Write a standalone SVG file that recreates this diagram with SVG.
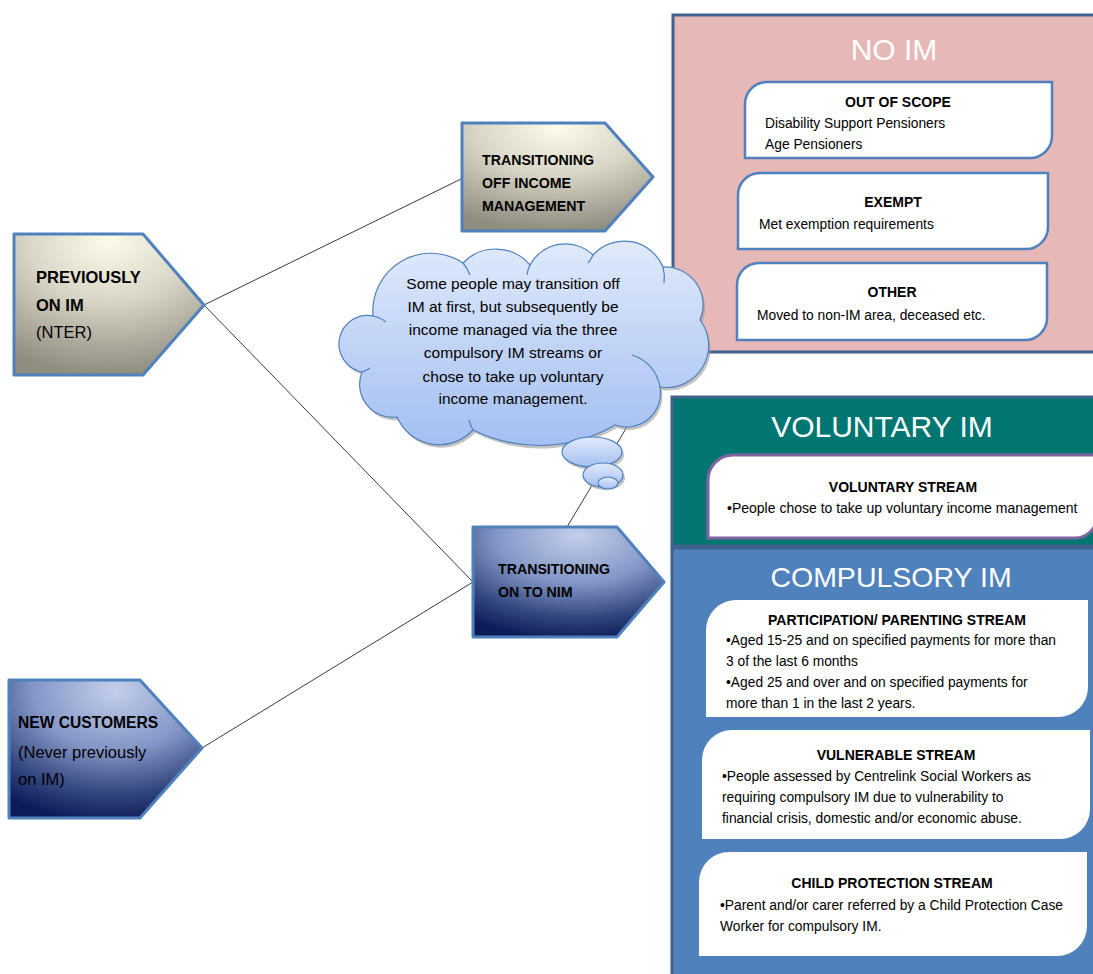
<svg xmlns="http://www.w3.org/2000/svg" width="1093" height="974" viewBox="0 0 1093 974">
<defs>
<radialGradient id="gBeige" cx="0.5" cy="0.05" r="0.95" fx="0.5" fy="0.05">
<stop offset="0" stop-color="#fdfbea"/>
<stop offset="0.45" stop-color="#d9d6c7"/>
<stop offset="1" stop-color="#8f8c80"/>
</radialGradient>
<radialGradient id="gBlue" cx="0.55" cy="0.08" r="0.95" fx="0.55" fy="0.08">
<stop offset="0" stop-color="#c3cfea"/>
<stop offset="0.45" stop-color="#8396c6"/>
<stop offset="0.78" stop-color="#33477f"/>
<stop offset="1" stop-color="#0c1c58"/>
</radialGradient>
<linearGradient id="gCloud" x1="0" y1="0" x2="0" y2="1">
<stop offset="0" stop-color="#e0eafb"/>
<stop offset="1" stop-color="#a4bff2"/>
</linearGradient>
<style>
.pent{stroke:#4f81bd;stroke-width:3;stroke-linejoin:round}
.conn{stroke:#3a3a3a;stroke-width:1;fill:none}
.t{font-family:"Liberation Sans",Arial,sans-serif;fill:#000}
.b{font-weight:bold}
.title{font-family:"Liberation Sans",Arial,sans-serif;fill:#fff;text-anchor:middle}
.box{fill:#fff}
.bx{stroke:#4f81bd;stroke-width:2.5}
.cl{fill:url(#gCloud);stroke:#4f81bd;stroke-width:1.2}
.crease{fill:none;stroke:#4f81bd;stroke-width:1.2}
</style>
</defs>
<rect width="1093" height="974" fill="#fff"/>

<g id="connectors">
<line class="conn" x1="204" y1="305" x2="461" y2="179"/>
<line class="conn" x1="204" y1="305" x2="473" y2="582"/>
<line class="conn" x1="202" y1="748" x2="473" y2="582"/>
<line class="conn" x1="567" y1="527" x2="670" y2="355"/>
</g>

<g id="panel-no-im">
<rect x="673" y="15" width="440" height="337" fill="#e6b8b7" stroke="#41628f" stroke-width="3"/>
<text class="title" x="894" y="60" font-size="30">NO IM</text>
</g>
<g id="out-of-scope">
<path class="box bx" d="M767,82 H1052 V136 A22,22 0 0 1 1030,158 H745 V104 A22,22 0 0 1 767,82 Z"/>
<text class="t b" x="898" y="107" font-size="14" text-anchor="middle">OUT OF SCOPE</text>
<text class="t" x="765" y="128" font-size="13.8">Disability Support Pensioners</text>
<text class="t" x="765" y="149" font-size="13.8">Age Pensioners</text>
</g>
<g id="exempt">
<path class="box bx" d="M760,173 H1048 V227 A22,22 0 0 1 1026,249 H738 V195 A22,22 0 0 1 760,173 Z"/>
<text class="t b" x="893" y="207" font-size="14" text-anchor="middle">EXEMPT</text>
<text class="t" x="759" y="229" font-size="13.8">Met exemption requirements</text>
</g>
<g id="other">
<path class="box bx" d="M759,263 H1047 V318 A22,22 0 0 1 1025,340 H737 V285 A22,22 0 0 1 759,263 Z"/>
<text class="t b" x="892" y="297" font-size="14" text-anchor="middle">OTHER</text>
<text class="t" x="757" y="320" font-size="13.8">Moved to non-IM area, deceased etc.</text>
</g>

<g id="panel-voluntary">
<rect x="672" y="397" width="440" height="149" fill="#007672" stroke="#41628f" stroke-width="3"/>
<text class="title" x="882" y="437" font-size="30">VOLUNTARY IM</text>
</g>
<g id="voluntary-stream">
<path class="box" stroke="#8064a2" stroke-width="3" d="M733,455 H1097 V516 A22,22 0 0 1 1075,538 H708 V480 A25,25 0 0 1 733,455 Z"/>
<text class="t b" x="903" y="492" font-size="14" text-anchor="middle">VOLUNTARY STREAM</text>
<text class="t" x="727" y="513" font-size="14">•People chose to take up voluntary income management</text>
</g>

<g id="panel-compulsory">
<rect x="672" y="548" width="440" height="440" fill="#4f81bd" stroke="#41628f" stroke-width="3"/>
<text class="title" x="891" y="587" font-size="28.5">COMPULSORY IM</text>
</g>
<g id="participation-stream">
<path class="box" d="M737,600 H1088 V687 A30,30 0 0 1 1058,717 H706 V630 A30,30 0 0 1 737,600 Z"/>
<text class="t b" x="897" y="625" font-size="14" text-anchor="middle">PARTICIPATION/ PARENTING STREAM</text>
<text class="t" x="726" y="645" font-size="13.8">•Aged 15-25 and on specified payments for more than</text>
<text class="t" x="726" y="666" font-size="13.8">3 of the last 6 months</text>
<text class="t" x="726" y="687" font-size="13.8">•Aged 25 and over and on specified payments for</text>
<text class="t" x="726" y="708" font-size="13.8">more than 1 in the last 2 years.</text>
</g>
<g id="vulnerable-stream">
<path class="box" d="M732,730 H1090 V809 A30,30 0 0 1 1060,839 H702 V760 A30,30 0 0 1 732,730 Z"/>
<text class="t b" x="896" y="760" font-size="14" text-anchor="middle">VULNERABLE STREAM</text>
<text class="t" x="722" y="781" font-size="13.8">•People assessed by Centrelink Social Workers as</text>
<text class="t" x="722" y="802" font-size="13.8">requiring compulsory IM due to vulnerability to</text>
<text class="t" x="722" y="823" font-size="13.8">financial crisis, domestic and/or economic abuse.</text>
</g>
<g id="child-protection-stream">
<path class="box" d="M729,852 H1087 V926 A30,30 0 0 1 1057,956 H699 V882 A30,30 0 0 1 729,852 Z"/>
<text class="t b" x="892" y="888" font-size="14" text-anchor="middle">CHILD PROTECTION STREAM</text>
<text class="t" x="720" y="910" font-size="13.8">•Parent and/or carer referred by a Child Protection Case</text>
<text class="t" x="720" y="931" font-size="13.8">Worker for compulsory IM.</text>
</g>

<g id="previously-on-im">
<path class="pent" fill="url(#gBeige)" d="M14,234 H143 L204,305 L143,375 H14 Z"/>
<text class="t b" x="36" y="283" font-size="16.5">PREVIOUSLY</text>
<text class="t b" x="36" y="311" font-size="16.5">ON IM</text>
<text class="t" x="36" y="338" font-size="16.5">(NTER)</text>
</g>
<g id="transitioning-off">
<path class="pent" fill="url(#gBeige)" d="M462,123 H605 L653,177 L605,231 H462 Z"/>
<text class="t b" x="482" y="165" font-size="14.2">TRANSITIONING</text>
<text class="t b" x="482" y="188" font-size="14.2">OFF INCOME</text>
<text class="t b" x="482" y="211" font-size="14.2">MANAGEMENT</text>
</g>
<g id="transitioning-on">
<path class="pent" fill="url(#gBlue)" d="M473,527 H617 L664,582 L617,637 H473 Z"/>
<text class="t b" x="498" y="574" font-size="14.2">TRANSITIONING</text>
<text class="t b" x="498" y="597" font-size="14.2">ON TO NIM</text>
</g>
<g id="new-customers">
<path class="pent" fill="url(#gBlue)" d="M9,680 H140 L202,748 L140,818 H9 Z"/>
<text class="t b" x="18" y="728" font-size="15.6">NEW CUSTOMERS</text>
<text class="t" x="18" y="758" font-size="16.5">(Never previously</text>
<text class="t" x="18" y="785" font-size="16.5">on IM)</text>
</g>

<g id="cloud">
<g transform="translate(2,3)" fill="#9a9a9a" opacity="0.6">
<path d="M373,316 A58,58 0 0 1 463,263 A45,45 0 0 1 530,265 A40,40 0 0 1 593,255 A42,42 0 0 1 663,267 A38,38 0 0 1 700,320 A42,42 0 0 1 660,387 A34,34 0 0 1 615,425 A150,150 0 0 1 473,430 A46,46 0 0 1 397,417 A33,33 0 0 1 362,372 A28,28 0 0 1 373,316 Z"/>
<ellipse cx="592" cy="452" rx="30" ry="15"/>
<ellipse cx="603" cy="475" rx="20" ry="12"/>
</g>
<path class="cl" d="M373,316 A58,58 0 0 1 463,263 A45,45 0 0 1 530,265 A40,40 0 0 1 593,255 A42,42 0 0 1 663,267 A38,38 0 0 1 700,320 A42,42 0 0 1 660,387 A34,34 0 0 1 615,425 A150,150 0 0 1 473,430 A46,46 0 0 1 397,417 A33,33 0 0 1 362,372 A28,28 0 0 1 373,316 Z"/>
<path class="crease" d="M373,316 A30,30 0 0 1 386,322"/>
<path class="crease" d="M463,263 A40,40 0 0 1 470,275"/>
<path class="crease" d="M530,265 A30,30 0 0 0 527,275"/>
<path class="crease" d="M593,255 A30,30 0 0 1 588,263"/>
<path class="crease" d="M663,267 A40,40 0 0 1 664,283"/>
<path class="crease" d="M660,387 A40,40 0 0 0 632,355"/>
<path class="crease" d="M473,430 A40,40 0 0 1 469,420"/>
<path class="crease" d="M362,372 A30,30 0 0 0 370,368"/>
<ellipse class="cl" cx="592" cy="452" rx="30" ry="15"/>
<ellipse class="cl" cx="603" cy="475" rx="20" ry="12"/>
<ellipse class="cl" cx="608" cy="483" rx="10" ry="6"/>
<g class="t" font-size="15.5" text-anchor="middle">
<text x="513" y="289">Some people may transition off</text>
<text x="513" y="312">IM at first, but subsequently be</text>
<text x="513" y="335">income managed via the three</text>
<text x="513" y="358">compulsory IM streams or</text>
<text x="513" y="382">chose to take up voluntary</text>
<text x="513" y="404">income management.</text>
</g>
</g>
</svg>
